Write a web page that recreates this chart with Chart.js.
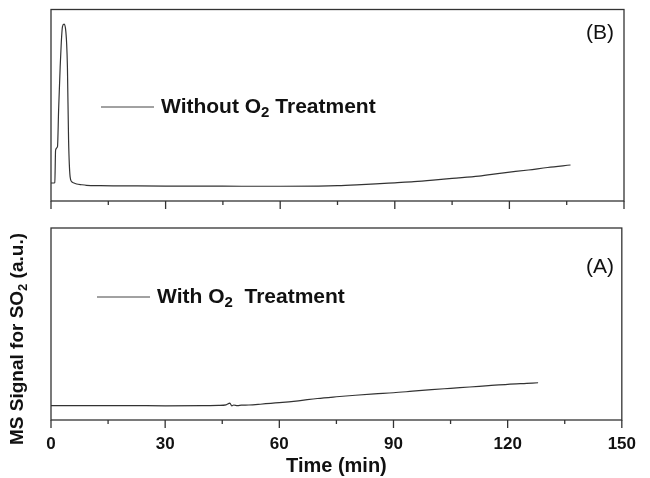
<!DOCTYPE html>
<html>
<head>
<meta charset="utf-8">
<script src="https://cdn.jsdelivr.net/npm/chart.js@4.4.1/dist/chart.umd.min.js"></script>
<style>
  body { margin: 0; background: #fff; }
  #wrap { position: relative; width: 650px; height: 478px; }
  canvas { position: absolute; left: 0; }
</style>
</head>
<body>
<div id="wrap">
  <canvas id="topChart" width="650" height="215" style="top:0"></canvas>
  <canvas id="botChart" width="650" height="263" style="top:215px"></canvas>
</div>
<script>
// time in minutes, signal in arbitrary units (0-100 per panel)
var timeB = [0, 0.6, 1.0, 1.2, 1.7, 2.0, 2.4, 2.7, 3.0, 3.4, 3.8, 4.1, 4.3, 4.6, 5.0, 5.4, 6.0, 6.7, 8.0, 9.3, 12.8, 20, 30, 40, 50, 60, 70, 75, 80, 85, 90, 95, 100, 105, 112, 118, 125, 130, 136];
var signalB = [9.4, 9.4, 9.6, 26.6, 28.4, 48, 70, 83, 91, 92.4, 90, 82, 70, 32, 12.7, 10.1, 9.4, 8.9, 8.5, 8.2, 8.0, 7.9, 7.8, 7.8, 7.7, 7.7, 7.8, 8.0, 8.4, 8.9, 9.5, 10.1, 10.9, 11.8, 13.0, 14.6, 16.2, 17.5, 18.8];

var timeA = [0, 10, 20, 30, 40, 44, 46, 47, 47.5, 48, 49, 50, 52, 55, 60, 65, 70, 75, 80, 85, 90, 95, 100, 105, 110, 115, 120, 125, 128];
var signalA = [7.5, 7.5, 7.5, 7.4, 7.5, 7.6, 7.9, 8.8, 7.4, 7.8, 7.5, 7.7, 7.8, 8.2, 9.0, 10.0, 11.2, 12.1, 12.9, 13.6, 14.2, 15.0, 15.8, 16.5, 17.2, 17.9, 18.6, 19.1, 19.4];

var xTicks = [0, 30, 60, 90, 120, 150];
var minorTicks = [15, 45, 75, 105, 135];

var FONT = '"Liberation Sans", Arial, sans-serif';
var INK = '#111';

function pts(xs, ys) {
  return xs.map(function(x, i) { return { x: x, y: ys[i] }; });
}

// text with a subscript "2" : parts = [before, sub, after]
function subText(ctx, parts, x, y, size, align) {
  var sub = Math.round(size * 0.7);
  ctx.font = 'bold ' + size + 'px ' + FONT;
  var w1 = ctx.measureText(parts[0]).width;
  var w3 = ctx.measureText(parts[2]).width;
  ctx.font = 'bold ' + sub + 'px ' + FONT;
  var w2 = ctx.measureText(parts[1]).width;
  var total = w1 + w2 + w3;
  var x0 = align === 'center' ? x - total / 2 : x;
  ctx.textBaseline = 'middle';
  ctx.textAlign = 'left';
  ctx.fillStyle = INK;
  ctx.font = 'bold ' + size + 'px ' + FONT;
  ctx.fillText(parts[0], x0, y);
  ctx.font = 'bold ' + sub + 'px ' + FONT;
  ctx.fillText(parts[1], x0 + w1, y + size * 0.3);
  ctx.font = 'bold ' + size + 'px ' + FONT;
  ctx.fillText(parts[2], x0 + w1 + w2, y);
}

var framePlugin = {
  id: 'frame',
  afterDraw: function(chart) {
    var ctx = chart.ctx, a = chart.chartArea, xs = chart.scales.x;
    var o = chart.options.plugins.frame;
    ctx.save();
    ctx.strokeStyle = '#333';
    ctx.lineWidth = 1.3;
    ctx.strokeRect(a.left, a.top, a.right - a.left, a.bottom - a.top);
    xTicks.forEach(function(v) {
      var px = xs.getPixelForValue(v);
      ctx.beginPath(); ctx.moveTo(px, a.bottom); ctx.lineTo(px, a.bottom + 8); ctx.stroke();
    });
    minorTicks.forEach(function(v) {
      var px = xs.getPixelForValue(v);
      ctx.beginPath(); ctx.moveTo(px, a.bottom); ctx.lineTo(px, a.bottom + 4); ctx.stroke();
    });
    // panel tag
    ctx.fillStyle = INK;
    ctx.font = '21px ' + FONT;
    ctx.textAlign = 'center';
    ctx.textBaseline = 'middle';
    ctx.fillText(o.tag, 600, o.tagY);
    // legend
    ctx.strokeStyle = '#444';
    ctx.lineWidth = 1;
    ctx.beginPath(); ctx.moveTo(o.legX, o.legY); ctx.lineTo(o.legX + 53, o.legY); ctx.stroke();
    subText(ctx, o.legText, o.legX + 60, o.legY, 21, 'left');
    if (o.yTitle) {
      ctx.save();
      ctx.translate(18, o.yTitleY);
      ctx.rotate(-Math.PI / 2);
      subText(ctx, ['MS Signal for SO', '2', ' (a.u.)'], 0, 0, 19, 'center');
      ctx.restore();
    }
    ctx.restore();
  }
};

function lineSet(data) {
  return {
    data: data,
    borderColor: '#333',
    borderWidth: 1.2,
    pointRadius: 0,
    fill: false,
    cubicInterpolationMode: 'monotone'
  };
}

new Chart(document.getElementById('topChart'), {
  type: 'line',
  data: { datasets: [lineSet(pts(timeB, signalB))] },
  plugins: [framePlugin],
  options: {
    responsive: false,
    animation: false,
    layout: { padding: { left: 51, right: 26, top: 9.5, bottom: 14 } },
    scales: {
      x: { type: 'linear', min: 0, max: 150, display: false },
      y: { min: 0, max: 100, display: false }
    },
    plugins: {
      legend: { display: false },
      tooltip: { enabled: false },
      frame: { tag: '(B)', tagY: 33, legX: 101, legY: 107, legText: ['Without O', '2', ' Treatment'] }
    }
  }
});

new Chart(document.getElementById('botChart'), {
  type: 'line',
  data: { datasets: [lineSet(pts(timeA, signalA))] },
  plugins: [framePlugin],
  options: {
    responsive: false,
    animation: false,
    layout: { padding: { left: 51, right: 26, top: 13, bottom: 0 } },
    scales: {
      x: {
        type: 'linear', min: 0, max: 150,
        grid: { display: false, drawTicks: false },
        border: { display: false },
        ticks: {
          stepSize: 30, padding: 14, color: INK,
          font: { family: FONT, size: 17, weight: 'bold' }
        },
        title: {
          display: true, text: 'Time (min)', color: INK,
          font: { family: FONT, size: 20, weight: 'bold' },
          padding: { top: 0, bottom: 0 }
        },
        afterFit: function(scale) { scale.height = 58; }
      },
      y: { min: 0, max: 100, display: false }
    },
    plugins: {
      legend: { display: false },
      tooltip: { enabled: false },
      frame: { tag: '(A)', tagY: 52, legX: 97, legY: 82, legText: ['With O', '2', '  Treatment'], yTitle: true, yTitleY: 124 }
    }
  }
});
</script>
</body>
</html>
